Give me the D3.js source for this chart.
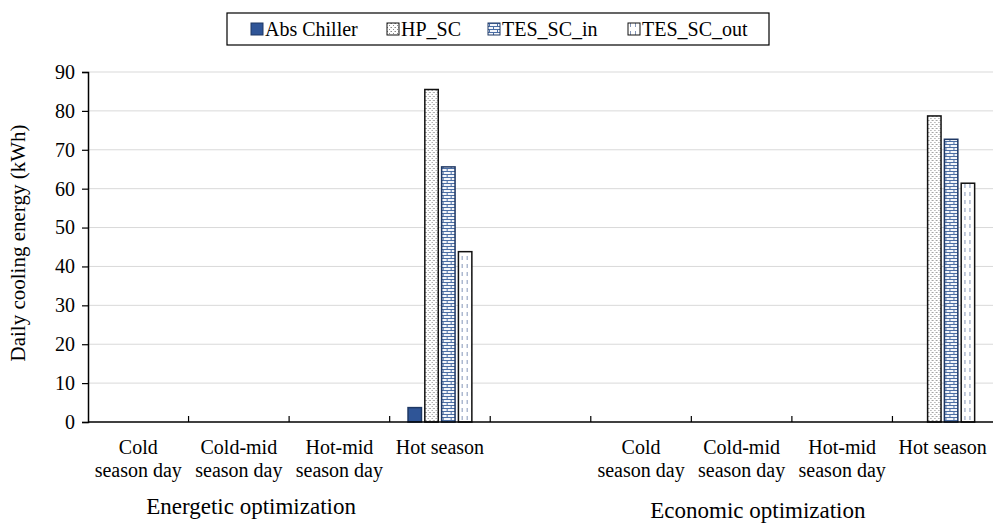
<!DOCTYPE html>
<html>
<head>
<meta charset="utf-8">
<script src="https://cdn.jsdelivr.net/npm/d3@7"></script>
</head>
<body style="margin:0">
<div id="chart"></div>
<script>
// categories, with an empty slot between the two optimisation groups
const categories = ["c1", "c2", "c3", "c4", "gap", "c6", "c7", "c8", "c9"];
const categoryLines = [
    ["Cold", "season day"], ["Cold-mid", "season day"], ["Hot-mid", "season day"], ["Hot season"],
    [],
    ["Cold", "season day"], ["Cold-mid", "season day"], ["Hot-mid", "season day"], ["Hot season"]
];
const groupLabels = ["Energetic optimization", "Economic optimization"];
const seriesNames = ["Abs Chiller", "HP_SC", "TES_SC_in", "TES_SC_out"];

// daily cooling energy (kWh) per category
const absChiller = [0, 0, 0, 3.7, null, 0, 0, 0, 0];
const hpSC       = [0, 0, 0, 85.5, null, 0, 0, 0, 78.7];
const tesSCin    = [0, 0, 0, 65.6, null, 0, 0, 0, 72.7];
const tesSCout   = [0, 0, 0, 43.8, null, 0, 0, 0, 61.4];
const seriesValues = [absChiller, hpSC, tesSCin, tesSCout];

const yTicks = [0, 10, 20, 30, 40, 50, 60, 70, 80, 90];

const W = 993, H = 523;
const margin = {top: 72, right: 0, bottom: 101, left: 88};
const innerW = W - margin.left - margin.right;
const innerH = H - margin.top - margin.bottom;

let svg = d3.select("#chart").append("svg")
    .attr("width", W)
    .attr("height", H);

// fill patterns
let defs = svg.append("defs");

let dots = defs.append("pattern").attr("id", "pDots")
    .attr("patternUnits", "userSpaceOnUse").attr("width", 4).attr("height", 4);
dots.append("rect").attr("width", 4).attr("height", 4).attr("fill", "#fff");
dots.append("rect").attr("x", 0).attr("y", 0).attr("width", 1).attr("height", 1).attr("fill", "#8a8a8a");
dots.append("rect").attr("x", 2).attr("y", 2).attr("width", 1).attr("height", 1).attr("fill", "#8a8a8a");
dots.append("rect").attr("x", 3).attr("y", 0).attr("width", 1).attr("height", 1).attr("fill", "#c4c4c4");

let brick = defs.append("pattern").attr("id", "pBrick")
    .attr("patternUnits", "userSpaceOnUse").attr("width", 8).attr("height", 6);
brick.append("rect").attr("width", 8).attr("height", 6).attr("fill", "#f4f6fa");
brick.append("path")
    .attr("d", "M0,0.5H8M0,3.5H8M1.5,0.5V3.5M5.5,3.5V6.5")
    .attr("stroke", "#4a6da4").attr("stroke-width", 1).attr("fill", "none");

let dash = defs.append("pattern").attr("id", "pDash")
    .attr("patternUnits", "userSpaceOnUse").attr("width", 5).attr("height", 8);
dash.append("rect").attr("width", 5).attr("height", 8).attr("fill", "#fff");
dash.append("line").attr("x1", 2.5).attr("x2", 2.5).attr("y1", 0).attr("y2", 4)
    .attr("stroke", "#8496b8").attr("stroke-width", 1);

const fills = ["#2f5597", "url(#pDots)", "url(#pBrick)", "url(#pDash)"];
const strokes = ["#1f3864", "#111", "#1f3864", "#111"];

let plot = svg.append("g")
    .attr("transform", "translate(" + margin.left + "," + margin.top + ")");

let x = d3.scaleBand().domain(categories).range([0, innerW]).paddingInner(0).paddingOuter(0);
let xs = d3.scaleBand().domain(seriesNames).range([15, x.bandwidth() - 15]).padding(0.2);
let y = d3.scaleLinear().domain([0, 90]).range([innerH, 0]);

// gridlines
plot.append("g")
    .selectAll("line")
    .data(yTicks.filter(d => d > 0))
    .join("line")
    .attr("x1", 0).attr("x2", innerW)
    .attr("y1", d => y(d)).attr("y2", d => y(d))
    .attr("stroke", "#d9d9d9").attr("stroke-width", 1);

// bars
let groups = plot.append("g")
    .selectAll("g")
    .data(categories)
    .join("g")
    .attr("transform", d => "translate(" + x(d) + ",0)");

groups.selectAll("rect")
    .data((c, i) => seriesNames.map((s, k) => ({s: s, k: k, v: seriesValues[k][i]})).filter(d => d.v))
    .join("rect")
    .attr("x", d => xs(d.s))
    .attr("width", xs.bandwidth())
    .attr("y", d => y(d.v))
    .attr("height", d => innerH - y(d.v))
    .attr("fill", d => fills[d.k])
    .attr("stroke", d => strokes[d.k])
    .attr("stroke-width", 1.5);

// y axis
let yAxis = plot.append("g")
    .call(d3.axisLeft(y).tickValues(yTicks).tickSize(6).tickPadding(7));
yAxis.select(".domain").attr("stroke", "#000").attr("stroke-width", 1.5);
yAxis.selectAll(".tick line").attr("stroke", "#000").attr("stroke-width", 1.2);
yAxis.selectAll(".tick text")
    .attr("fill", "#000")
    .style("font-family", "Times New Roman")
    .style("font-size", "20px");

// x axis with ticks between categories pointing up
let xAxis = plot.append("g").attr("transform", "translate(0," + innerH + ")");
xAxis.append("line").attr("x1", 0).attr("x2", innerW)
    .attr("stroke", "#000").attr("stroke-width", 1.5);
xAxis.selectAll("line.tk")
    .data(categories.slice(1))
    .join("line")
    .attr("class", "tk")
    .attr("x1", d => x(d)).attr("x2", d => x(d))
    .attr("y1", 0).attr("y2", -6)
    .attr("stroke", "#000").attr("stroke-width", 1.2);

// category labels, one text per line
categories.forEach((c, i) => {
    xAxis.selectAll(null)
        .data(categoryLines[i])
        .join("text")
        .attr("x", x(c) + x.bandwidth() / 2)
        .attr("y", (d, j) => 32 + j * 23)
        .attr("text-anchor", "middle")
        .style("font-family", "Times New Roman")
        .style("font-size", "20px")
        .text(d => d);
});

// group labels
const groupCenters = [x("c1") + 2 * x.bandwidth() - 38, x("c6") + 2 * x.bandwidth() - 34];
xAxis.selectAll("text.grp")
    .data(groupLabels)
    .join("text")
    .attr("class", "grp")
    .attr("text-anchor", "middle")
    .style("font-family", "Times New Roman")
    .style("font-size", "23px")
    .attr("x", (d, i) => groupCenters[i])
    .attr("y", (d, i) => 92 + i * 4)
    .text(d => d);

// y axis title
svg.append("text")
    .attr("transform", "translate(25," + (margin.top + innerH / 2 - 4) + ") rotate(-90)")
    .attr("text-anchor", "middle")
    .style("font-family", "Times New Roman")
    .style("font-size", "21px")
    .text("Daily cooling energy (kWh)");

// legend
let legend = svg.append("g").attr("transform", "translate(227,13)");
legend.append("rect").attr("width", 542).attr("height", 32)
    .attr("fill", "#fff").attr("stroke", "#000").attr("stroke-width", 1.2);
const legendX = [24, 160, 261, 401];
let items = legend.selectAll("g.item")
    .data(seriesNames)
    .join("g")
    .attr("class", "item")
    .attr("transform", (d, i) => "translate(" + legendX[i] + ",10)");
items.append("rect")
    .attr("width", 12).attr("height", 12)
    .attr("fill", (d, i) => fills[i])
    .attr("stroke", (d, i) => strokes[i])
    .attr("stroke-width", 1);
items.append("text")
    .attr("x", 14).attr("y", 13)
    .style("font-family", "Times New Roman")
    .style("font-size", "20px")
    .text(d => d);
</script>
</body>
</html>
